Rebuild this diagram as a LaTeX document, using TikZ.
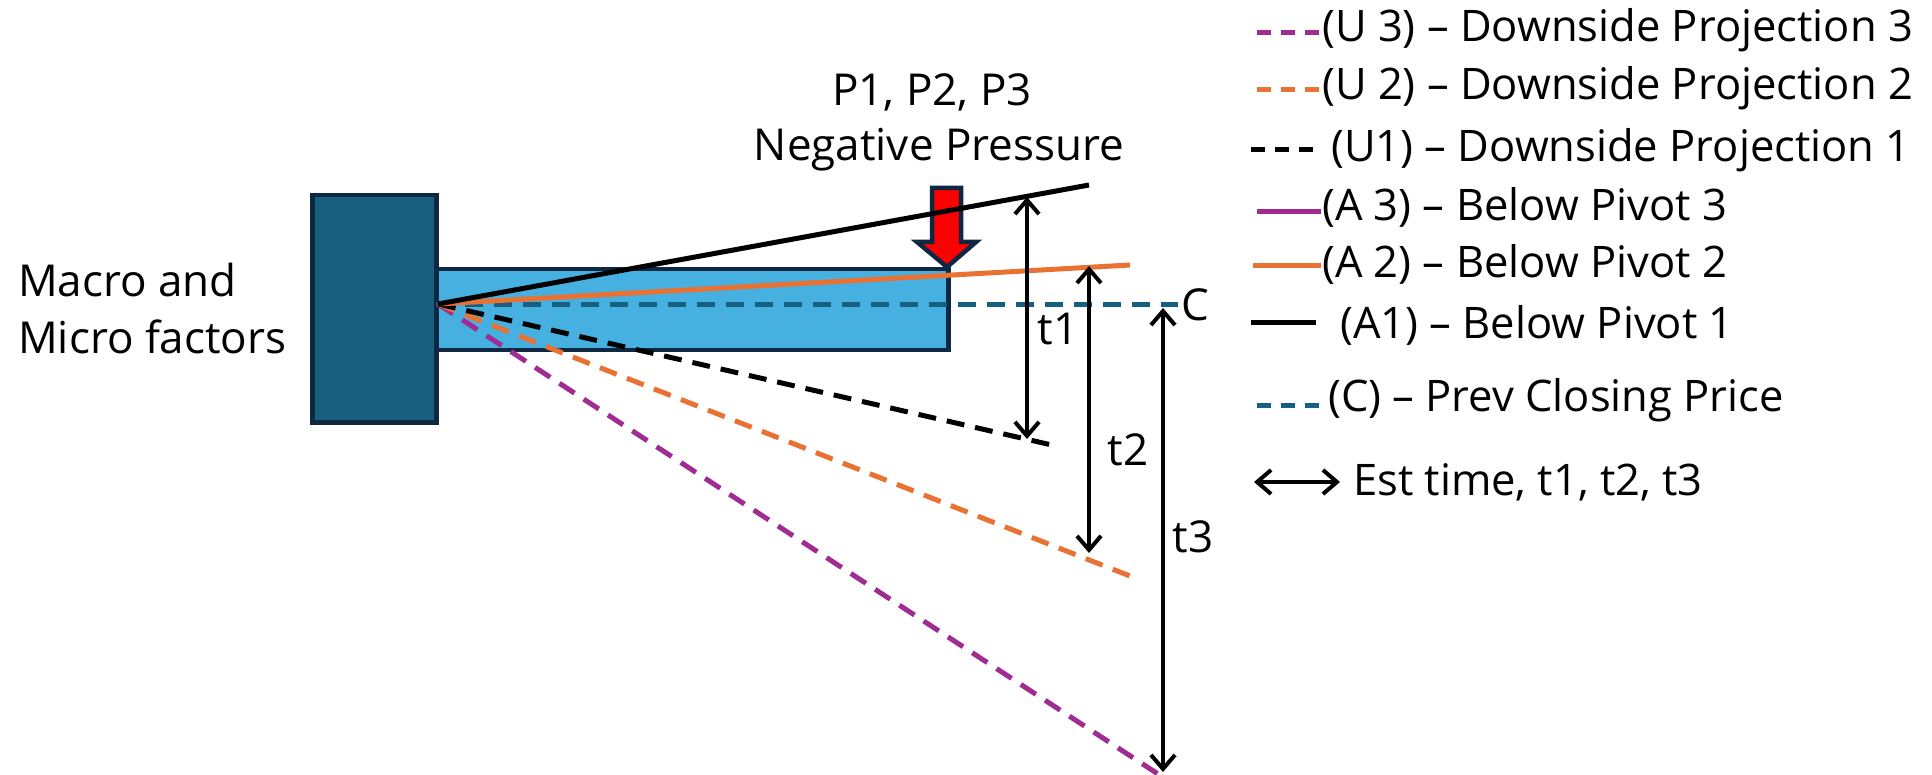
\documentclass[tikz,border=0pt]{standalone}
\usepackage{fontspec}
\setmainfont{Open Sans}
\usetikzlibrary{arrows.meta}
\definecolor{navy}{HTML}{0E2841}
\definecolor{darkteal}{HTML}{185F80}
\definecolor{lightblue}{HTML}{46B1E1}
\definecolor{offorange}{HTML}{E97132}
\definecolor{offpurple}{HTML}{A02B93}
\definecolor{closeblue}{HTML}{156082}
\definecolor{arrowred}{HTML}{FF0000}
\begin{document}
\begin{tikzpicture}[x=1pt,y=-1pt,
  lbl/.style={font=\fontsize{44}{52}\selectfont, inner sep=0pt},
  leg/.style={font=\fontsize{43.5}{52}\selectfont, inner sep=0pt, anchor=west},
  proj/.style={line width=5pt, dash pattern=on 18pt off 11pt},
  legdash/.style={line width=5pt, dash pattern=on 14pt off 10pt},
  pivline/.style={line width=5pt},
  timearrow/.style={line width=4pt, {Straight Barb[length=14pt,width=24pt]}-{Straight Barb[length=14pt,width=24pt]}},
  boxstyle/.style={draw=navy, line width=4.5pt, inner sep=0pt, anchor=north west}
]
\useasboundingbox (0,0) rectangle (1932,775);

% boxes
\node (bar) [boxstyle, fill=lightblue, minimum width=512pt, minimum height=81pt] at (434,267) {};
\node (factors) [boxstyle, fill=darkteal, minimum width=124pt, minimum height=227pt] at (310,193) {};

% key points
\coordinate (pivot) at (438,304);
\coordinate (cstart) at (436,305);
\coordinate (cend) at (1178,305);
\coordinate (a1end) at (1089,185);
\coordinate (a2end) at (1130,265);
\coordinate (u1end) at (1056,446);
\coordinate (u2end) at (1130,576);
\coordinate (u3end) at (1158,774);

% red pressure arrow
\path[draw=navy, line width=4.5pt, line join=miter, fill=arrowred]
  (932,188) -- (961,188) -- (961,242) -- (976,242) -- (947,267) -- (917,242) -- (932,242) -- cycle;

% projection lines
\draw[proj, closeblue] (cstart) -- (cend);
\draw[proj, offpurple] (pivot) -- (u3end);
\draw[proj, offorange] (pivot) -- (u2end);
\draw[proj, black] (pivot) -- (u1end);
\draw[pivline, offorange] (pivot) -- (a2end);
\draw[pivline, black] (pivot) -- (a1end);

% time arrows
\coordinate (t1top) at (1027,197);
\coordinate (t1bot) at (1027,439);
\coordinate (t2top) at (1089,266);
\coordinate (t2bot) at (1089,553);
\coordinate (t3top) at (1163,308);
\coordinate (t3bot) at (1163,772);
\draw[timearrow] (t1top) -- (t1bot);
\draw[timearrow] (t2top) -- (t2bot);
\draw[timearrow] (t3top) -- (t3bot);

% labels
\node (lt1) [lbl] at (1058,329) {t1};
\node (lt2) [lbl] at (1128,450) {t2};
\node (lt3) [lbl] at (1193,537) {t3};
\node (lc) [lbl, anchor=west] at (1181,305) {C};
\node (macro1) [lbl, anchor=base west] at (18,297) {Macro and};
\node (macro2) [lbl, anchor=base west] at (18,353) {Micro factors};
\node (p123) [lbl, anchor=base] at (932,106) {P1, P2, P3};
\node (negp) [lbl, anchor=base] at (939,161) {Negative Pressure};

% legend
\coordinate (lg1a) at (1257,33);  \coordinate (lg1b) at (1321,33);
\coordinate (lg2a) at (1257,90);  \coordinate (lg2b) at (1321,90);
\coordinate (lg3a) at (1251,150); \coordinate (lg3b) at (1316,150);
\coordinate (lg4a) at (1257,212); \coordinate (lg4b) at (1321,212);
\coordinate (lg5a) at (1253,266); \coordinate (lg5b) at (1321,266);
\coordinate (lg6a) at (1251,323); \coordinate (lg6b) at (1316,323);
\coordinate (lg7a) at (1257,405); \coordinate (lg7b) at (1325,405);
\coordinate (lg8a) at (1254,482); \coordinate (lg8b) at (1340,482);
\draw[legdash, offpurple] (lg1a) -- (lg1b);
\draw[legdash, offorange] (lg2a) -- (lg2b);
\draw[legdash, black] (lg3a) -- (lg3b);
\draw[pivline, offpurple] (lg4a) -- (lg4b);
\draw[pivline, offorange] (lg5a) -- (lg5b);
\draw[pivline, black] (lg6a) -- (lg6b);
\draw[legdash, closeblue] (lg7a) -- (lg7b);
\draw[timearrow] (lg8a) -- (lg8b);

\node (leg1) [leg] at (1322,30) {(U 3) – Downside Projection 3};
\node (leg2) [leg] at (1322,88) {(U 2) – Downside Projection 2};
\node (leg3) [leg] at (1331,150) {(U1) – Downside Projection 1};
\node (leg4) [leg] at (1322,207) {(A 3) – Below Pivot 3};
\node (leg5) [leg] at (1322,264) {(A 2) – Below Pivot 2};
\node (leg6) [leg] at (1340,325) {(A1) – Below Pivot 1};
\node (leg7) [leg] at (1328,400) {(C) – Prev Closing Price};
\node (leg8) [leg] at (1353,482) {Est time, t1, t2, t3};
\end{tikzpicture}
\end{document}
